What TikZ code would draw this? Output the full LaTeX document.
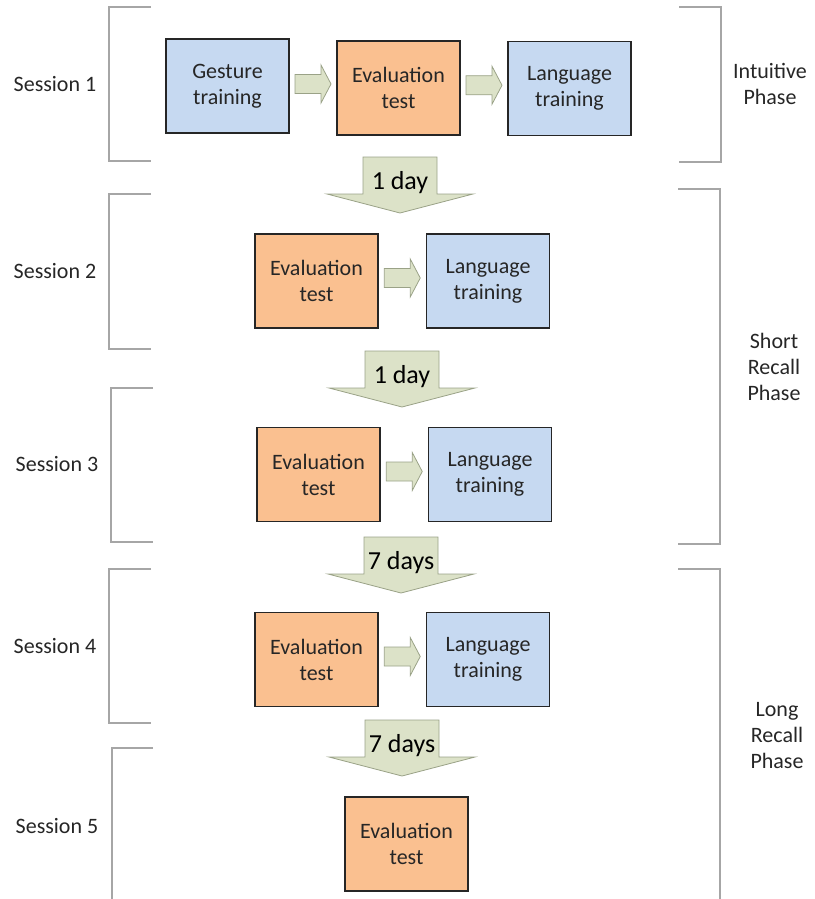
\documentclass[tikz,border=0pt]{standalone}
\usepackage{fontspec}
\setmainfont{Carlito}
\usetikzlibrary{calc}

\definecolor{trainblue}{HTML}{C6D9F1}
\definecolor{testorange}{HTML}{FAC090}
\definecolor{arrowfill}{HTML}{DCE2C8}
\definecolor{arrowline}{HTML}{9AA287}
\definecolor{bracketgray}{HTML}{A6A6A6}
\definecolor{textgray}{HTML}{262626}

\begin{document}
\begin{tikzpicture}
  [x=0.75pt, y=-0.75pt,
   every node/.style={font=\fontsize{16.5}{19.5}\selectfont, text=textgray, align=center},
   stage/.style={draw=black!85, line width=0.9pt, minimum width=92.25pt, minimum height=70.5pt, inner sep=0pt},
   train/.style={stage, fill=trainblue},
   test/.style={stage, fill=testorange},
   daylabel/.style={font=\fontsize{19.5}{23}\selectfont, text=black, inner sep=0pt, anchor=base},
   blockarrow/.style={draw=arrowline, fill=arrowfill, line width=0.6pt, line join=miter},
   bracket/.style={draw=bracketgray, line width=1pt}]
  \useasboundingbox (0,0) rectangle (814,899);

  % sessions and phases
  \node (s1) at (55,84) {Session 1};
  \node (s2) at (55,271) {Session 2};
  \node (s3) at (57,464) {Session 3};
  \node (s4) at (55,646) {Session 4};
  \node (s5) at (57,826) {Session 5};
  \node (p1) at (770,84) {Intuitive\\Phase};
  \node (p2) at (774,367) {Short\\Recall\\Phase};
  \node (p3) at (777,736) {Long\\Recall\\Phase};

  \draw[bracket] (151,7) -| (109,161) -- (151,161);
  \draw[bracket] (151,194) -| (109,349) -- (151,349);
  \draw[bracket] (153,388) -| (111,542) -- (153,542);
  \draw[bracket] (151,569) -| (109,723) -- (151,723);
  \draw[bracket] (153,748) -| (112,899);
  \draw[bracket] (679,7) -| (721,162) -- (679,162);
  \draw[bracket] (678,189) -| (720,544) -- (678,544);
  \draw[bracket] (678,569) -| (720,899);

  % steps
  \node[train] (g1) at (227.5,86) {Gesture\\training};
  \node[test] (e1) at (398.5,88) {Evaluation\\test};
  \node[train] (l1) at (569.5,88.5) {Language\\training};
  \node[test] (e2) at (316.5,281) {Evaluation\\test};
  \node[train] (l2) at (488,281) {Language\\training};
  \node[test] (e3) at (318.5,474.5) {Evaluation\\test};
  \node[train] (l3) at (490,474.5) {Language\\training};
  \node[test] (e4) at (316.5,659.5) {Evaluation\\test};
  \node[train] (l4) at (488,659.5) {Language\\training};
  \node[test] (e5) at (406.5,844) {Evaluation\\test};

  \foreach \a/\b in {g1/e1,e1/l1,e2/l2,e3/l3,e4/l4}
    \draw[blockarrow] ($(\a.east)!0.5!(\b.west)+(-18,-12.5)$) -- ++(26,0) -- ++(0,-9.5)
      -- ++(10,19) -- ++(-10,19) -- ++(0,-9.5) -- ++(-26,0) -- cycle;

  % gaps between sessions
  \foreach \x/\y/\t/\n in {400/157/1 day/d1, 402/351/1 day/d2, 401/537/7 days/d3, 402/720/7 days/d4}{
    \draw[blockarrow] (\x-37,\y) -- (\x+37,\y) -- (\x+37,\y+37) -- (\x+73,\y+37)
      -- (\x,\y+56) -- (\x-73,\y+37) -- (\x-37,\y+37) -- cycle;
    \node[daylabel] (\n) at (\x,\y+32) {\t};
  }
\end{tikzpicture}
\end{document}
